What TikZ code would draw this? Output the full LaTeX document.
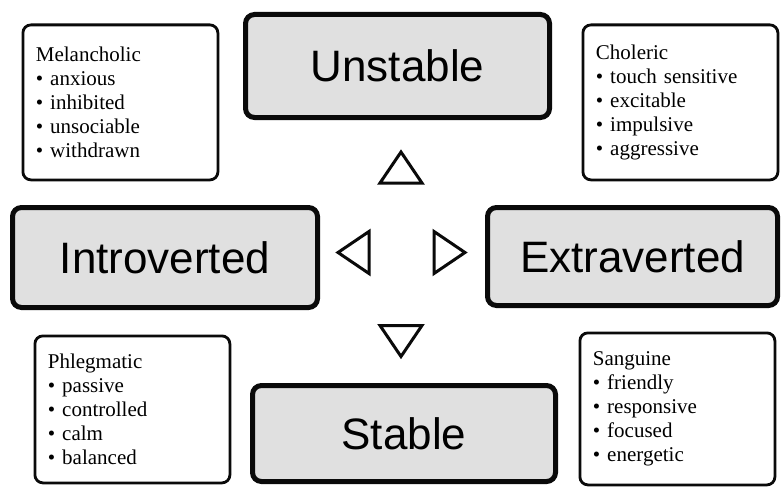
\documentclass[tikz,border=0pt]{standalone}
\usepackage{fontspec}
\setmainfont{Liberation Serif}
\newfontfamily\boxfont{Liberation Sans}
\usetikzlibrary{positioning}
\definecolor{panel}{RGB}{224,224,224}
\definecolor{ink}{RGB}{10,10,10}
\tikzset{
  axis box/.style={draw=ink,fill=panel,line width=5pt,rounded corners=9pt,
    minimum width=#1,inner sep=0pt,font=\boxfont\fontsize{44}{48}\selectfont},
  axis box/.default=304pt,
  temper/.style={draw=ink,fill=white,line width=2.8pt,rounded corners=8pt,
    anchor=north west,minimum width=195pt,minimum height=#1,text width=169pt,
    inner xsep=13pt,align=left,font=\fontsize{21}{24}\selectfont},
  temper/.default=155pt,
  % open triangle pointing up, rotate it for the other directions
  pics/tri/.style={code={
    \draw[ink,line width=3pt,line join=miter] (-21,16) -- (0,-15) -- (21,16) -- cycle;
  }},
}
\newcommand{\itm}{\par\textbullet\ }
\begin{document}
\begin{tikzpicture}[x=1pt,y=-1pt]
  \useasboundingbox[fill=white] (0,0) rectangle (782,487);
  % the two axes
  \node[axis box,minimum height=103pt] (unstable) at (397.5,66) {Unstable};
  \node[axis box=303pt,minimum height=96pt] (stable) at (404,433.5) {Stable};
  \node[axis box=305pt,minimum height=100pt] (intro) at (165,257.5) {Introverted};
  \node[axis box=290pt,minimum height=98pt] (extra) at (632.5,256.5) {Extraverted};
  \pic (up) at (401,167) {tri};
  \pic[rotate=180] (dn) at (401,341.5) {tri};
  \pic[rotate=90] (lt) at (353,252.5) {tri};
  \pic[rotate=-90] (rt) at (450,252.5) {tri};
  % the four temperaments
  \node[temper] (mel) at (21.5,23.5) {Melancholic\itm anxious\itm inhibited\itm unsociable\itm withdrawn};
  \node[temper] (cho) at (581.5,23.5) {Choleric\itm touch sensitive\itm excitable\itm impulsive\itm aggressive};
  \node[temper=147pt] (phl) at (33.5,334.5) {Phlegmatic\itm passive\itm controlled\itm calm\itm balanced};
  \node[temper=152pt] (san) at (578.5,331.5) {Sanguine\itm friendly\itm responsive\itm focused\itm energetic};
\end{tikzpicture}
\end{document}
